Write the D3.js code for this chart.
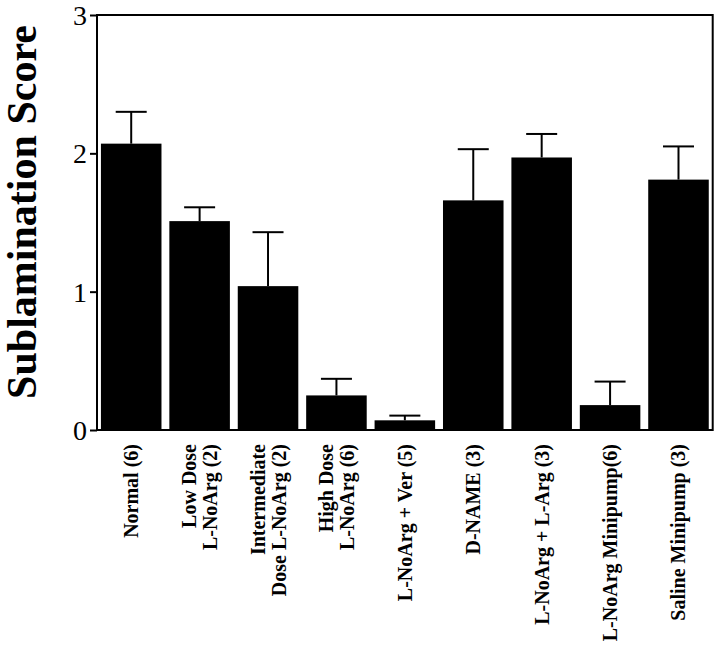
<!DOCTYPE html>
<html><head><meta charset="utf-8">
<script src="https://cdn.jsdelivr.net/npm/d3@7"></script>
<style>body{margin:0;background:#fff}</style>
</head><body>
<svg id="c" width="720" height="652"></svg>
<script>
const categories = [
  ["Normal (6)"],
  ["Low Dose", "L-NoArg (2)"],
  ["Intermediate", "Dose L-NoArg (2)"],
  ["High Dose", "L-NoArg (6)"],
  ["L-NoArg + Ver (5)"],
  ["D-NAME (3)"],
  ["L-NoArg + L-Arg (3)"],
  ["L-NoArg Minipump(6)"],
  ["Saline Minipump (3)"]
];
const means = [2.07, 1.51, 1.04, 0.25, 0.07, 1.66, 1.97, 0.18, 1.81];
const errors = [0.23, 0.10, 0.39, 0.12, 0.034, 0.37, 0.17, 0.17, 0.24];
const yTicks = [0, 1, 2, 3];
const yTitle = "Sublamination Score";

const svg = d3.select("#c");
const L = 97, R = 712.7, T = 15, B = 430;
const x = d3.scaleBand().domain(d3.range(categories.length)).range([L, R]).paddingInner(0.115).paddingOuter(0.0575);
const y = d3.scaleLinear().domain([0, 3]).range([B, T]);
const serif = "'Liberation Serif','Times New Roman',serif";

// bars
svg.selectAll("rect.bar").data(means).enter().append("rect")
  .attr("x", (d, i) => x(i)).attr("width", x.bandwidth())
  .attr("y", d => y(d)).attr("height", d => y(0) - y(d))
  .attr("fill", "#000");

// error bars
const eg = svg.append("g").attr("stroke", "#000").attr("stroke-width", 2);
means.forEach((m, i) => {
  const cx = x(i) + x.bandwidth() / 2;
  eg.append("line").attr("x1", cx).attr("x2", cx).attr("y1", y(m)).attr("y2", y(m + errors[i]));
  eg.append("line").attr("x1", cx - 15.5).attr("x2", cx + 15.5).attr("y1", y(m + errors[i])).attr("y2", y(m + errors[i]));
});

// frame
svg.append("rect").attr("x", L).attr("y", T).attr("width", R - L).attr("height", B - T)
  .attr("fill", "none").attr("stroke", "#000").attr("stroke-width", 2);

// y axis
const ya = svg.append("g").attr("transform", `translate(${L},0)`)
  .call(d3.axisLeft(y).tickValues(yTicks).tickFormat(d3.format("d")).tickSize(7).tickPadding(3));
ya.select(".domain").remove();
ya.selectAll(".tick line").attr("stroke-width", 2);
ya.selectAll(".tick text").attr("font-family", serif).attr("font-size", 28).attr("fill", "#000").attr("dy", "0.34em");

// y title
svg.append("text").attr("transform", "translate(36,212) rotate(-90)")
  .attr("text-anchor", "middle").attr("font-family", serif).attr("font-weight", "bold")
  .attr("font-size", 42).attr("fill", "#000").text(yTitle);

// x labels
categories.forEach((lines, i) => {
  const cx = x(i) + x.bandwidth() / 2;
  const n = lines.length;
  lines.forEach((t, j) => {
    const off = (j - (n - 1) / 2) * 21;
    svg.append("text")
      .attr("transform", `translate(${cx + off + 7},444) rotate(-90)`)
      .attr("text-anchor", "end").attr("font-family", serif).attr("font-weight", "bold")
      .attr("font-size", 20).attr("fill", "#000").text(t);
  });
});
</script>
</body></html>
